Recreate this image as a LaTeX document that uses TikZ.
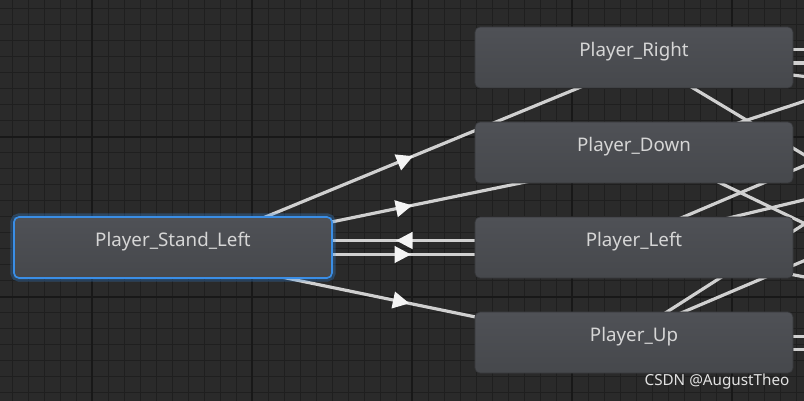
\documentclass[tikz,border=0pt]{standalone}
\usepackage{fontspec}
\setmainfont{Noto Sans}
\usepackage{tikz}
\usetikzlibrary{calc,decorations.markings}

\definecolor{gridbg}{HTML}{2A2A2A}
\definecolor{gridminor}{HTML}{1F1F1F}
\definecolor{gridmajor}{HTML}{181818}
\definecolor{statetop}{HTML}{4F5156}
\definecolor{statebottom}{HTML}{46484C}
\definecolor{stateedge}{HTML}{36373A}
\definecolor{labelgray}{HTML}{D6D6D6}
\definecolor{selblue}{HTML}{3A8EE6}
\definecolor{linegray}{HTML}{D0D0D0}
\definecolor{arrowwhite}{HTML}{F4F4F4}

\pgfdeclarelayer{grid}
\pgfdeclarelayer{edges}
\pgfsetlayers{grid,edges,main}

\begin{document}
\begin{tikzpicture}[x=0.03cm,y=-0.03cm]

        \tikzstyle{every node}=[font=\fontsize{16}{19}\selectfont, text=labelgray]
        \tikzstyle{state}=[rectangle, rounded corners=0.15cm, minimum width=9.54cm, minimum height=1.83cm,
            top color=statetop, bottom color=statebottom, draw=stateedge, line width=0.02cm,
            text height=0.36cm, text depth=0.42cm]
        \tikzstyle{selected}=[draw=selblue, line width=0.05cm,
            preaction={draw=selblue, line width=0.22cm, opacity=0.3}]
        \tikzstyle{link}=[draw=linegray, line width=0.095cm]
        \tikzstyle{transition}=[link, postaction={decorate}, decoration={markings,
            mark=at position 0.5 with {\fill[arrowwhite] (-0.27cm,0.26cm) -- (0.22cm,0) -- (-0.27cm,-0.26cm) -- cycle;}}]

        \useasboundingbox (0,0) rectangle (804,401);

        % Draw the grid
        \begin{pgfonlayer}{grid}
            \fill[gridbg] (0,0) rectangle (804,401);
            \foreach \x in {12,28,...,796}
                \draw[gridminor, line width=0.03cm] (\x,0) -- (\x,401);
            \foreach \y in {9,25,...,393}
                \draw[gridminor, line width=0.03cm] (0,\y) -- (804,\y);
            \foreach \x in {92,252,412,572,732}
                \draw[gridmajor, line width=0.05cm] (\x,0) -- (\x,401);
            \foreach \y in {137,297}
                \draw[gridmajor, line width=0.05cm] (0,\y) -- (804,\y);
        \end{pgfonlayer}

        % Define the states
        \node[state, selected] (standleft) at (173,247.5) {Player\_Stand\_Left};
        \node[state] (playerright) at (634,57.5) {Player\_Right};
        \node[state] (playerdown) at (634,152.5) {Player\_Down};
        \node[state] (playerleft) at (634,247.5) {Player\_Left};
        \node[state] (playerup) at (634,342.5) {Player\_Up};

        % Watermark
        \node[font=\fontsize{13}{15}\selectfont, text=labelgray!70!white] (mark) at (717,382) {CSDN @AugustTheo};

        \begin{pgfonlayer}{edges}
            \clip (0,0) rectangle (804,401);

            % Transitions of Player_Stand_Left
            \draw[transition] ($(standleft.center)!0.21cm!-90:(playerright.center)$) -- ($(playerright.center)!0.21cm!90:(standleft.center)$);
            \draw[transition] ($(standleft.center)!0.21cm!-90:(playerdown.center)$) -- ($(playerdown.center)!0.21cm!90:(standleft.center)$);
            \draw[transition] ($(playerleft.center)!0.21cm!-90:(standleft.center)$) -- ($(standleft.center)!0.21cm!90:(playerleft.center)$);
            \draw[transition] ($(standleft.center)!0.21cm!-90:(playerleft.center)$) -- ($(playerleft.center)!0.21cm!90:(standleft.center)$);
            \draw[transition] ($(standleft.center)!0.21cm!-90:(playerup.center)$) -- ($(playerup.center)!0.21cm!90:(standleft.center)$);

            % Transitions running off to the right
            \draw[link] ($(playerright.center)+(0,-8)$) -- +(300,0);
            \draw[link] ($(playerright.center)+(0,5.5)$) -- +(300,0);
            \draw[link] ($(playerright.center)+(0,-1.5)$) -- +(366,44);
            \draw[link] ($(playerright.center)+(0,-5)$) -- +(366,220);
            \draw[link] ($(playerdown.center)+(0,5)$) -- +(366,-121);
            \draw[link] ($(playerdown.center)+(0,-11)$) -- +(366,176);
            \draw[link] ($(playerleft.center)+(0,-9.5)$) -- +(366,-155.5);
            \draw[link] ($(playerleft.center)+(0,-6.7)$) -- +(366,-88);
            \draw[link] ($(playerleft.center)+(0,-4.5)$) -- +(366,73);
            \draw[link] ($(playerup.center)+(0,-6)$) -- +(300,0);
            \draw[link] ($(playerup.center)+(0,7)$) -- +(300,0);
            \draw[link] ($(playerup.center)+(0,-9.5)$) -- +(366,-234);
            \draw[link] ($(playerup.center)+(0,-9.5)$) -- +(366,-155.5);
        \end{pgfonlayer}

\end{tikzpicture}
\end{document}
